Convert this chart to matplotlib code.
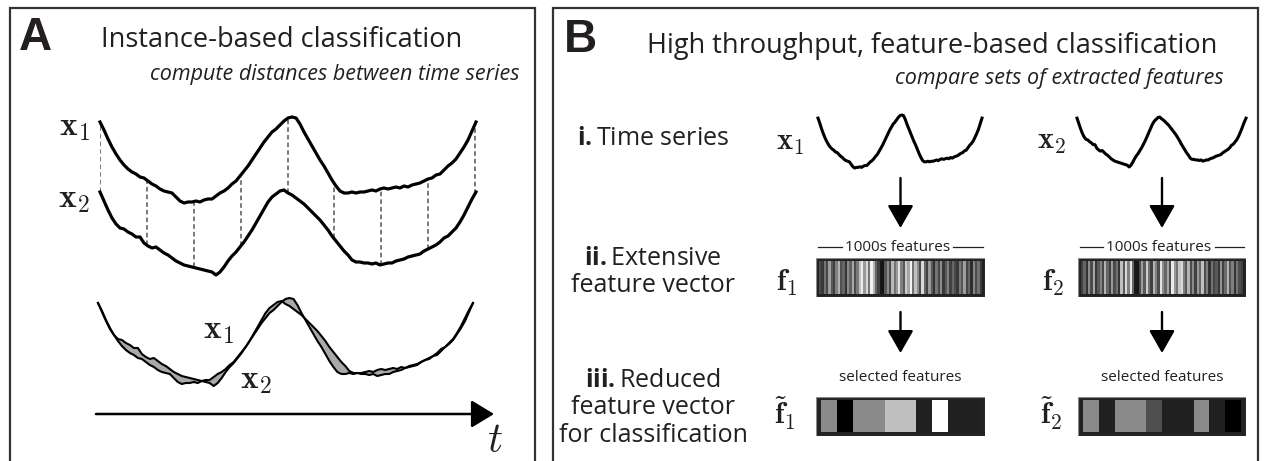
import numpy as np
import matplotlib
matplotlib.use('Agg')
import matplotlib.pyplot as plt
from matplotlib.patches import Rectangle

W, H = 1265, 461
plt.rcParams['font.family'] = ['Open Sans', 'DejaVu Sans']
plt.rcParams['mathtext.fontset'] = 'custom'
plt.rcParams['mathtext.rm'] = 'Open Sans'
plt.rcParams['mathtext.bf'] = 'Open Sans:bold'
plt.rcParams['mathtext.it'] = 'Open Sans:italic'

# ---------------- data ----------------
# two example time series (arbitrary amplitude units, uniform time steps)
x1_series = [81, 73, 64, 56, 49, 43, 38, 34, 31, 29, 26, 25, 22, 19, 17, 14, 12, 11, 10, 6,
             2, 0, 1, 1, 2, 1, 3, 4, 4, 7, 10, 12, 15, 19, 22, 27, 32, 37, 43, 49,
             55, 61, 66, 71, 74, 78, 82, 85, 86, 85, 79, 71, 64, 57, 50, 43, 37, 30, 23, 17,
             12, 10, 10, 11, 10, 11, 11, 12, 13, 12, 14, 15, 14, 15, 16, 15, 17, 16, 18, 19,
             20, 22, 24, 25, 28, 29, 33, 37, 40, 44, 50, 56, 63, 72, 81]
x2_series = [83, 74, 65, 57, 51, 47, 46, 43, 41, 38, 38, 32, 29, 27, 28, 25, 22, 20, 17, 14,
             12, 10, 9, 8, 7, 6, 5, 4, 3, 0, 3, 8, 14, 19, 23, 28, 33, 39, 45, 52,
             59, 66, 73, 78, 81, 84, 85, 82, 80, 77, 74, 71, 67, 63, 59, 55, 50, 45, 39, 34,
             29, 24, 20, 15, 13, 13, 12, 12, 11, 12, 10, 11, 12, 12, 14, 15, 16, 18, 19, 20,
             21, 24, 26, 28, 30, 33, 37, 39, 43, 47, 53, 60, 68, 76, 83]
time = np.arange(len(x1_series))
link_times = [0, 11.75, 23.5, 35.25, 47, 58.5, 70.25, 82, 93.75]

# extensive (1000s) feature vectors, grey level 0=black 1=white
f1_extensive = [0.30, 0.22, 0.45, 0.28, 0.62, 0.35, 0.25, 0.50, 0.70, 0.32,
                0.40, 0.20, 0.55, 0.38, 0.66, 0.30, 0.48, 0.75, 0.92, 0.60,
                0.85, 0.45, 0.95, 0.70, 0.40, 0.25, 0.10, 0.08, 0.35, 0.55,
                0.30, 0.72, 0.45, 0.60, 0.88, 0.50, 0.35, 0.80, 0.65, 0.95,
                0.45, 0.75, 0.55, 0.30, 0.85, 0.40, 0.25, 0.60, 0.35, 0.20,
                0.45, 0.28, 0.55, 0.22, 0.35, 0.50, 0.25, 0.40, 0.30, 0.22,
                0.48, 0.33, 0.62, 0.27, 0.40, 0.18, 0.52, 0.30, 0.44, 0.24]
f2_extensive = [0.25, 0.40, 0.20, 0.55, 0.30, 0.65, 0.22, 0.35, 0.50, 0.28,
                0.70, 0.40, 0.25, 0.60, 0.30, 0.45, 0.20, 0.75, 0.35, 0.85,
                0.50, 0.90, 0.40, 0.10, 0.08, 0.30, 0.62, 0.35, 0.80, 0.45,
                0.25, 0.70, 0.50, 0.30, 0.88, 0.55, 0.40, 0.65, 0.30, 0.92,
                0.60, 0.45, 0.78, 0.85, 0.50, 0.35, 0.70, 0.30, 0.55, 0.25,
                0.60, 0.40, 0.75, 0.30, 0.50, 0.20, 0.45, 0.28, 0.35, 0.22,
                0.58, 0.26, 0.42, 0.70, 0.32, 0.50, 0.21, 0.46, 0.30, 0.25]
# reduced (selected) feature vectors
f1_selected = [0.54, 0.0, 0.54, 0.54, 0.75, 0.75, 0.13, 1.0, 0.13, 0.13]
f2_selected = [0.54, 0.13, 0.54, 0.54, 0.31, 0.13, 0.13, 0.54, 0.13, 0.0]

x1 = np.array(x1_series, float)
x2 = np.array(x2_series, float)

TXT = '#231f20'
fig = plt.figure(figsize=(W / 100, H / 100), dpi=100)
ax = fig.add_axes([0, 0, 1, 1])
ax.set_xlim(0, W)
ax.set_ylim(H, 0)
ax.axis('off')


def px_axes(x0, y0, xr, yb):
    a = fig.add_axes([x0 / W, 1 - yb / H, (xr - x0) / W, (yb - y0) / H])
    a.axis('off')
    return a


# panel frames (open at the bottom)
for l, r in [(10, 535), (553, 1258)]:
    ax.plot([l, l, r, r], [475, 8, 8, 475], color='#333333', lw=1.6,
            solid_joinstyle='miter', clip_on=False)

# ---------------- Panel A ----------------
ax.text(19, 50, 'A', family='Liberation Sans', weight='bold', fontsize=33, color=TXT)
ax.text(101, 47, 'Instance-based classification', fontsize=19.5, color=TXT)
ax.text(519, 80, 'compute distances between time series', style='italic',
        fontsize=15.5, ha='right', color=TXT)

top = px_axes(100, 110, 476, 275)
top.set_xlim(0, 94)
top.set_ylim(0, 165)
x1_top = x1 + 72
top.vlines(link_times, np.interp(link_times, time, x2), np.interp(link_times, time, x1_top),
           colors='#555555', linestyles=(0, (3, 2)), lw=1.1, zorder=1)
top.plot(time, x1_top, color='k', lw=2.3, clip_on=False, zorder=2)
top.plot(time, x2, color='k', lw=2.3, clip_on=False, zorder=2)

bot = px_axes(98, 296, 473, 386)
bot.set_xlim(0, 94)
bot.set_ylim(0, 90)
x1_bot = x1 + 2
bot.fill_between(time, x1_bot, x2, color='#a7a9ac', lw=0)
bot.plot(time, x1_bot, color='k', lw=1.5, clip_on=False)
bot.plot(time, x2, color='k', lw=1.5, clip_on=False)

math_kw = dict(math_fontfamily='cm', color=TXT)
ax.text(90, 135, r'$\mathbf{x}_1$', ha='right', fontsize=24, **math_kw)
ax.text(90, 207, r'$\mathbf{x}_2$', ha='right', fontsize=24, **math_kw)
ax.text(203, 338, r'$\mathbf{x}_1$', ha='left', fontsize=24, **math_kw)
ax.text(240, 388, r'$\mathbf{x}_2$', ha='left', fontsize=24, **math_kw)

ax.annotate('', xy=(494, 414), xytext=(96, 414),
            arrowprops=dict(arrowstyle='-|>,head_length=14,head_width=8.5', mutation_scale=1,
                            lw=1.8, color='k', shrinkA=0, shrinkB=0))
ax.text(495, 452, r'$t$', ha='center', fontsize=30, **math_kw)

# ---------------- Panel B ----------------
ax.text(564, 52, 'B', family='Liberation Sans', weight='bold', fontsize=33, color=TXT)
ax.text(647, 53, 'High throughput, feature-based classification', fontsize=19.5, color=TXT)
ax.text(1224, 84, 'compare sets of extracted features', style='italic', fontsize=15.5,
        ha='right', color=TXT)

lab_kw = dict(ha='center', fontsize=18, color=TXT)
ax.text(653, 145, r'$\mathbf{i.}$Time series', **lab_kw)
ax.text(653, 265, r'$\mathbf{ii.}$Extensive', **lab_kw)
ax.text(653, 292, 'feature vector', **lab_kw)
ax.text(653, 387, r'$\mathbf{iii.}$Reduced', **lab_kw)
ax.text(653, 414, 'feature vector', **lab_kw)
ax.text(653, 442, 'for classification', **lab_kw)

s1 = px_axes(818, 115, 982, 168)
s1.set_xlim(0, 94)
s1.set_ylim(0, 86)
s1.plot(time, x1, color='k', lw=2.2, clip_on=False)
s2 = px_axes(1077, 117, 1246, 167)
s2.set_xlim(0, 94)
s2.set_ylim(0, 85)
s2.plot(time, x2, color='k', lw=2.2, clip_on=False)
ax.text(776, 150, r'$\mathbf{x}_1$', fontsize=22, **math_kw)
ax.text(1037, 149, r'$\mathbf{x}_2$', fontsize=22, **math_kw)


def draw_bar(x0, xr, y0, yb, values, mx_px, my_px):
    b = px_axes(x0, y0, xr, yb)
    b.add_patch(Rectangle((0, 0), 1, 1, facecolor='#222222', edgecolor='#8a8a8a', lw=0.8,
                          transform=b.transAxes, zorder=0))
    mx = mx_px / (xr - x0)
    my = my_px / (yb - y0)
    b.imshow(np.array(values)[None, :], cmap='gray', vmin=0, vmax=1,
             extent=(mx, 1 - mx, my, 1 - my), aspect='auto', interpolation='nearest',
             zorder=2)
    b.set_xlim(0, 1)
    b.set_ylim(0, 1)
    b.axis('off')


cols = [(816, 985, f1_extensive, f1_selected, r'\mathbf{f}_1', r'\tilde{\mathbf{f}}_1', 776),
        (1078, 1246, f2_extensive, f2_selected, r'\mathbf{f}_2', r'\tilde{\mathbf{f}}_2', 1042)]
arrow_kw = dict(arrowstyle='-|>,head_length=14,head_width=8', mutation_scale=1,
                lw=1.7, color='k', shrinkA=0, shrinkB=0)
feat_texts = []
for l, r, ext, sel, flab, ftlab, lx in cols:
    cx = (l + r) / 2
    ax.annotate('', xy=(cx, 228), xytext=(cx, 178), arrowprops=arrow_kw)
    ax.annotate('', xy=(cx, 353), xytext=(cx, 312), arrowprops=arrow_kw)
    draw_bar(l, r, 258, 297, ext, 3, 3)
    draw_bar(l, r, 397, 436, sel, 5, 4)
    t = ax.text(cx - 3, 247, '1000s features', ha='center', va='center', fontsize=11, color=TXT)
    feat_texts.append((t, l, r))
    ax.text(cx, 381, 'selected features', ha='center', fontsize=11, color=TXT)
    ax.text(lx, 291, '$' + flab + '$', fontsize=22, **math_kw)
    ax.text(lx - 2, 425, '$' + ftlab + '$', fontsize=22, **math_kw)

fig.canvas.draw()
inv = ax.transData.inverted()
for t, l, r in feat_texts:
    bb = t.get_window_extent()
    (tx0, _), (tx1, _) = inv.transform([[bb.x0, bb.y0], [bb.x1, bb.y1]])
    ax.plot([l + 2, tx0 - 3], [247, 247], color=TXT, lw=0.9)
    ax.plot([tx1 + 3, r - 2], [247, 247], color=TXT, lw=0.9)

fig.savefig('out.png', dpi=100)
